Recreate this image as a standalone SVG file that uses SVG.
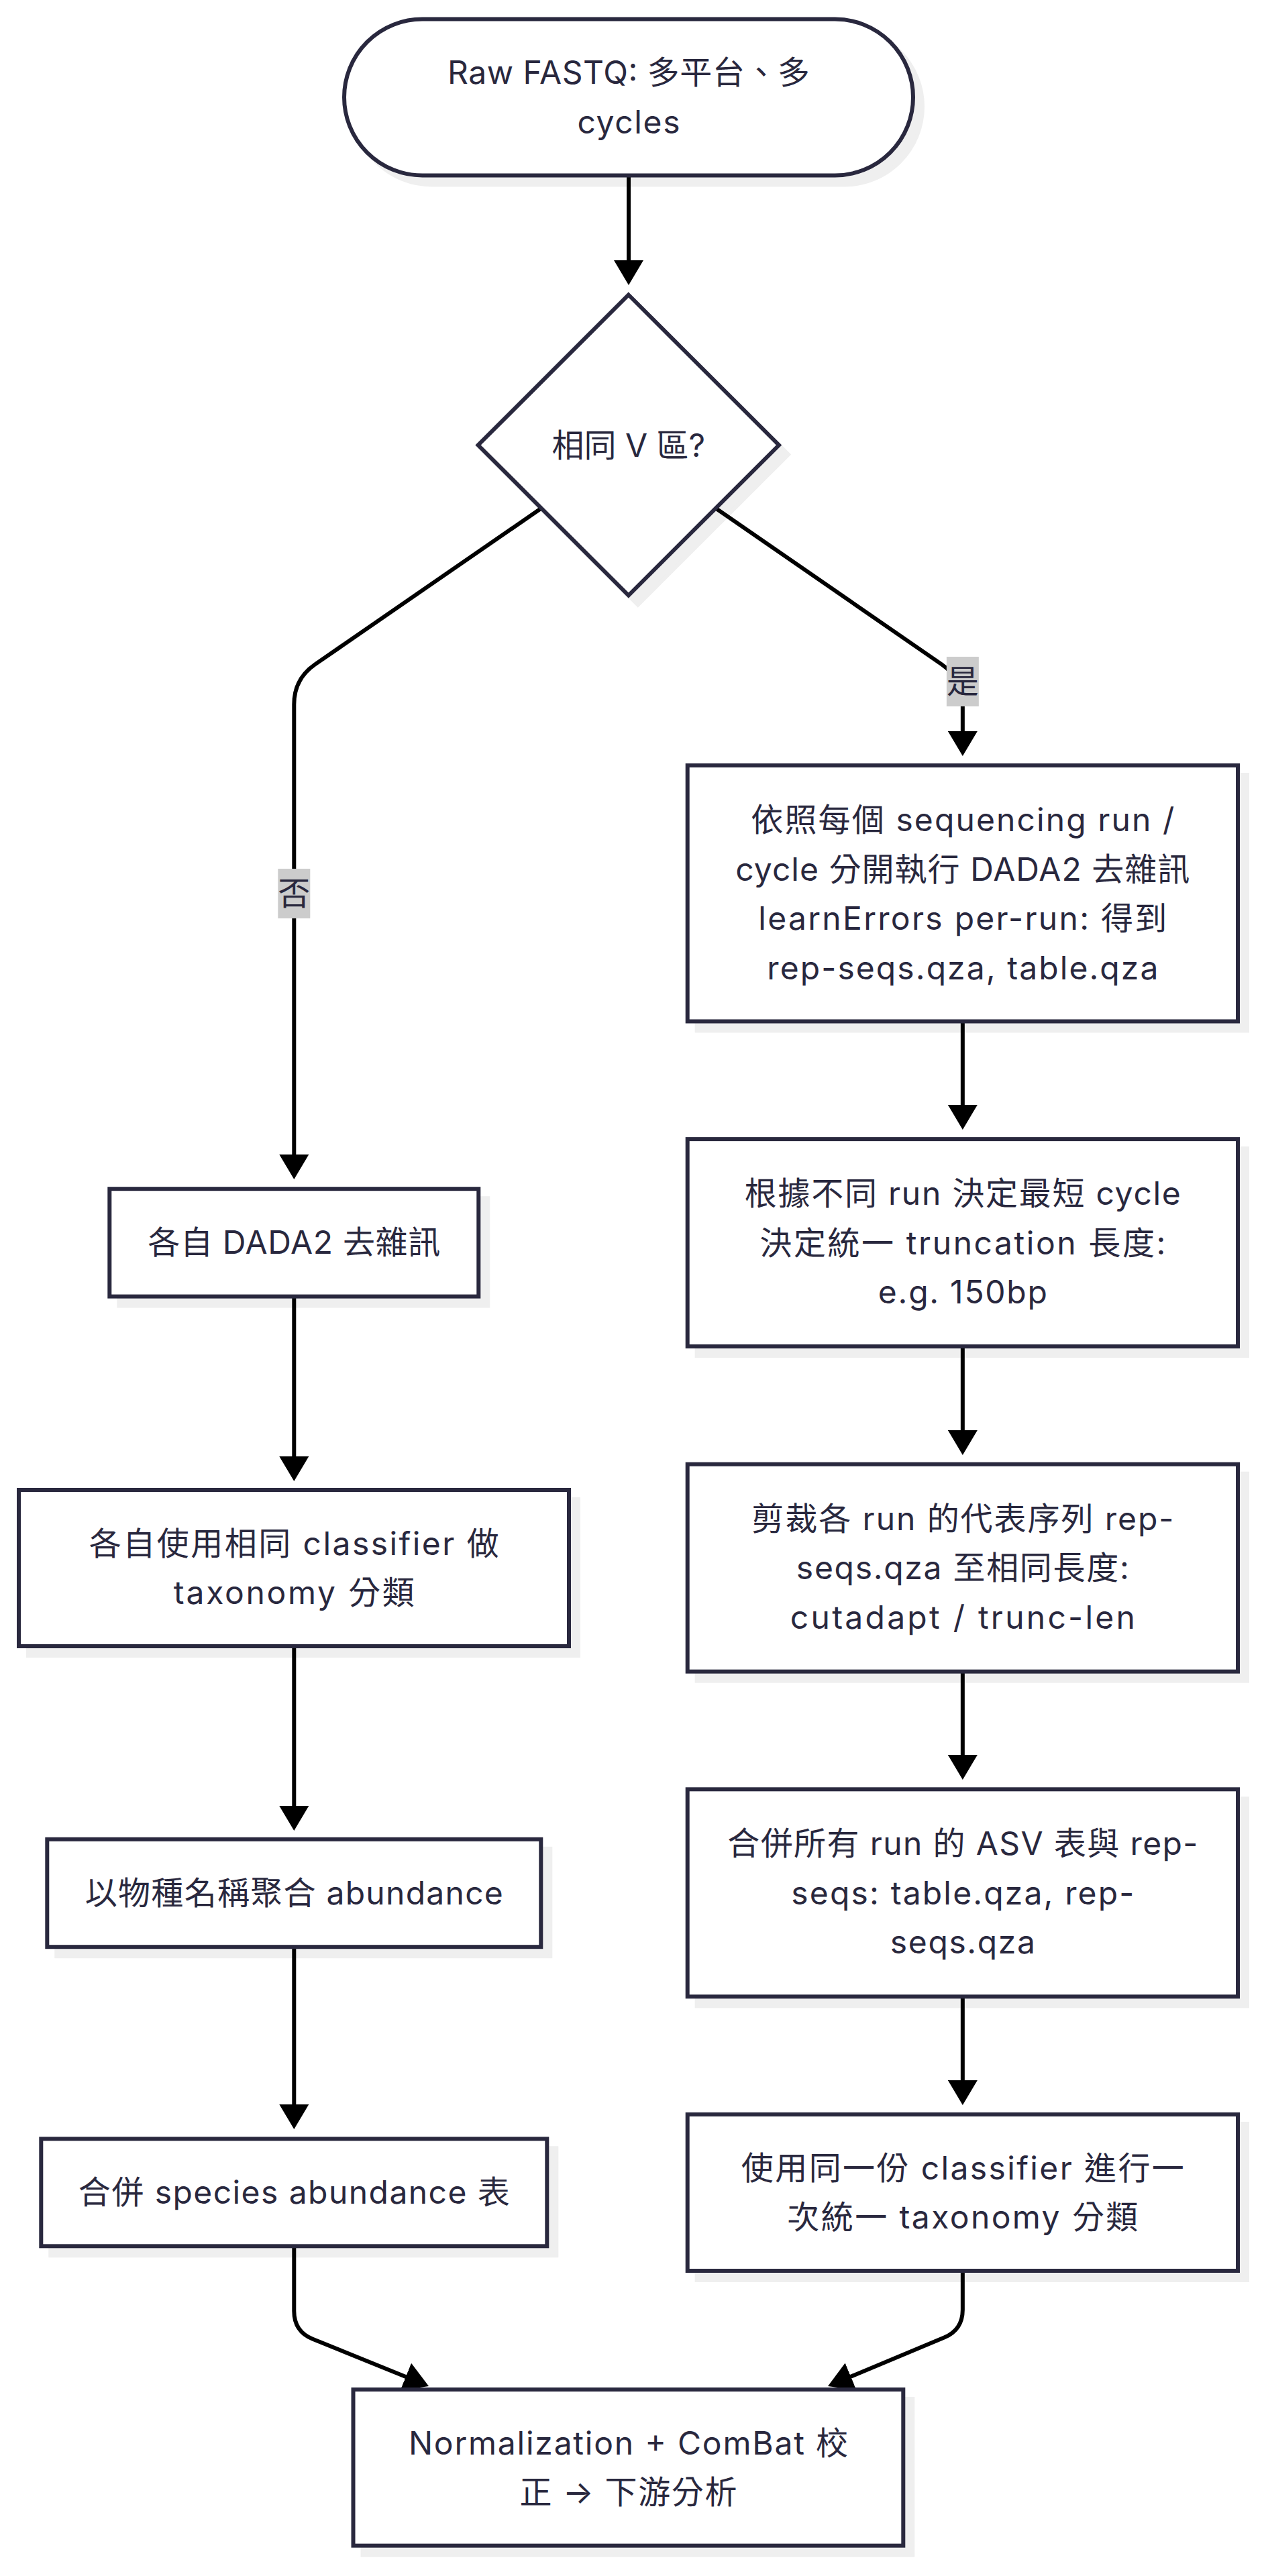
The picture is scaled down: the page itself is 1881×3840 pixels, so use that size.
<svg xmlns="http://www.w3.org/2000/svg" width="1881" height="3840" viewBox="0 0 1881 3840">
<style>
.t{font-family:Inter,"Noto Sans CJK TC",sans-serif;font-size:48px;fill:#29283e;text-anchor:middle}
.n{fill:#ffffff;stroke:#29283e;stroke-width:6}
.s{fill:#efefef;stroke:#efefef;stroke-width:6}
.e{fill:none;stroke:#000000;stroke-width:6}
.lb{fill:#cccccc}
</style>
<defs>
<marker id="ah" markerUnits="userSpaceOnUse" markerWidth="40" markerHeight="44" refX="2" refY="22" orient="auto">
<path d="M0,0 L37,22 L0,44 Z" fill="#000000"/>
</marker>
</defs>
<rect width="1881" height="3840" fill="#ffffff"/>
<g id="shadows">
<rect class="s" x="527" y="42.5" width="848" height="233" rx="116.5"/>
<polygon class="s" points="950.8,453.5 1175,677.5 950.8,901.5 726.6,677.5"/>
<rect class="s" x="1038.7" y="1155" width="820.3" height="381.5"/>
<rect class="s" x="1038.7" y="1712.1" width="820.3" height="309"/>
<rect class="s" x="1038.7" y="2196.7" width="820.3" height="309"/>
<rect class="s" x="1038.7" y="2681.3" width="820.3" height="309"/>
<rect class="s" x="1038.7" y="3165.9" width="820.3" height="233.1"/>
<rect class="s" x="177.3" y="1786.2" width="550" height="160.4"/>
<rect class="s" x="42" y="2235" width="820" height="233"/>
<rect class="s" x="84.3" y="2755.8" width="736" height="160.4"/>
<rect class="s" x="75.3" y="3202.3" width="754" height="160"/>
<rect class="s" x="540.5" y="3576" width="819.8" height="232.7"/>
</g>
<g id="connectors">
<path class="e" d="M937 262 L937 390" marker-end="url(#ah)"/>
<path class="e" d="M809.9 755.5 L469.6 990.4 Q438.3 1012 438.3 1050 L438.3 1723" marker-end="url(#ah)"/>
<path class="e" d="M1063.7 755.5 L1403.6 990.4 Q1434.85 1012 1434.85 1050 L1434.85 1092" marker-end="url(#ah)"/>
<path class="e" d="M1434.85 1522 L1434.85 1649" marker-end="url(#ah)"/>
<path class="e" d="M1434.85 2007 L1434.85 2134" marker-end="url(#ah)"/>
<path class="e" d="M1434.85 2492 L1434.85 2618" marker-end="url(#ah)"/>
<path class="e" d="M1434.85 2976 L1434.85 3103" marker-end="url(#ah)"/>
<path class="e" d="M438.3 1932 L438.3 2173" marker-end="url(#ah)"/>
<path class="e" d="M438.3 2454 L438.3 2694" marker-end="url(#ah)"/>
<path class="e" d="M438.3 2902 L438.3 3139" marker-end="url(#ah)"/>
<path class="e" d="M438.3 3348 L438.3 3445 Q438.3 3475.5 466.1 3486.8 L606.6 3543.8" marker-end="url(#ah)"/>
<path class="e" d="M1434.85 3385 L1434.85 3443 Q1434.85 3473 1407.3 3484.6 L1266.3 3543.5" marker-end="url(#ah)"/>
<g id="label-no">
<rect class="lb" x="414.3" y="1295" width="48" height="74"/>
<text class="t" x="438.3" y="1349">否</text>
</g>
<g id="label-yes">
<rect class="lb" x="1410.85" y="979" width="48" height="74"/>
<text class="t" x="1434.85" y="1033">是</text>
</g>
</g>
<g id="start">
<rect class="n" x="513" y="28.5" width="848" height="233" rx="116.5"/>
<text class="t" x="937" y="125" textLength="540" lengthAdjust="spacing">Raw FASTQ: 多平台、多</text>
<text class="t" x="937" y="198.5" textLength="153" lengthAdjust="spacing">cycles</text>
</g>
<g id="decision">
<polygon class="n" points="936.8,439.5 1161,663.5 936.8,887.5 712.6,663.5"/>
<text class="t" x="936.8" y="680.5">相同 V 區?</text>
</g>
<g id="r1">
<rect class="n" x="1024.7" y="1141" width="820.3" height="381.5"/>
<text class="t" x="1434.85" y="1239.25" textLength="631" lengthAdjust="spacing">依照每個 sequencing run /</text>
<text class="t" x="1434.85" y="1312.75" textLength="677" lengthAdjust="spacing">cycle 分開執行 DADA2 去雜訊</text>
<text class="t" x="1434.85" y="1386.25" textLength="609" lengthAdjust="spacing">learnErrors per-run: 得到</text>
<text class="t" x="1434.85" y="1459.75" textLength="583" lengthAdjust="spacing">rep-seqs.qza, table.qza</text>
</g>
<g id="r2">
<rect class="n" x="1024.7" y="1698.1" width="820.3" height="309"/>
<text class="t" x="1434.85" y="1796.1" textLength="650" lengthAdjust="spacing">根據不同 run 決定最短 cycle</text>
<text class="t" x="1434.85" y="1869.6" textLength="605" lengthAdjust="spacing">決定統一 truncation 長度:</text>
<text class="t" x="1434.85" y="1943.1" textLength="252" lengthAdjust="spacing">e.g. 150bp</text>
</g>
<g id="r3">
<rect class="n" x="1024.7" y="2182.7" width="820.3" height="309"/>
<text class="t" x="1434.85" y="2280.7" textLength="629" lengthAdjust="spacing">剪裁各 run 的代表序列 rep-</text>
<text class="t" x="1434.85" y="2354.2" textLength="496" lengthAdjust="spacing">seqs.qza 至相同長度:</text>
<text class="t" x="1434.85" y="2427.7" textLength="514" lengthAdjust="spacing">cutadapt / trunc-len</text>
</g>
<g id="r4">
<rect class="n" x="1024.7" y="2667.3" width="820.3" height="309"/>
<text class="t" x="1434.85" y="2765.3" textLength="701" lengthAdjust="spacing">合併所有 run 的 ASV 表與 rep-</text>
<text class="t" x="1434.85" y="2838.8" textLength="511" lengthAdjust="spacing">seqs: table.qza, rep-</text>
<text class="t" x="1434.85" y="2912.3" textLength="216" lengthAdjust="spacing">seqs.qza</text>
</g>
<g id="r5">
<rect class="n" x="1024.7" y="3151.9" width="820.3" height="233.1"/>
<text class="t" x="1434.85" y="3248.75" textLength="660" lengthAdjust="spacing">使用同一份 classifier 進行一</text>
<text class="t" x="1434.85" y="3322.25" textLength="523" lengthAdjust="spacing">次統一 taxonomy 分類</text>
</g>
<g id="l1">
<rect class="n" x="163.3" y="1772.2" width="550" height="160.4"/>
<text class="t" x="438.3" y="1869.4" textLength="436" lengthAdjust="spacing">各自 DADA2 去雜訊</text>
</g>
<g id="l2">
<rect class="n" x="28" y="2221" width="820" height="233"/>
<text class="t" x="438.3" y="2317.75" textLength="611" lengthAdjust="spacing">各自使用相同 classifier 做</text>
<text class="t" x="438.3" y="2391.25" textLength="359" lengthAdjust="spacing">taxonomy 分類</text>
</g>
<g id="l3">
<rect class="n" x="70.3" y="2741.8" width="736" height="160.4"/>
<text class="t" x="438.3" y="2839" textLength="623" lengthAdjust="spacing">以物種名稱聚合 abundance</text>
</g>
<g id="l4">
<rect class="n" x="61.3" y="3188.3" width="754" height="160"/>
<text class="t" x="438.3" y="3285.3" textLength="643" lengthAdjust="spacing">合併 species abundance 表</text>
</g>
<g id="final">
<rect class="n" x="526.5" y="3562" width="819.8" height="232.7"/>
<text class="t" x="936.4" y="3658.6" textLength="655" lengthAdjust="spacing">Normalization + ComBat 校</text>
<text class="t" x="936.4" y="3732.1" textLength="324" lengthAdjust="spacing">正 → 下游分析</text>
</g>
</svg>
